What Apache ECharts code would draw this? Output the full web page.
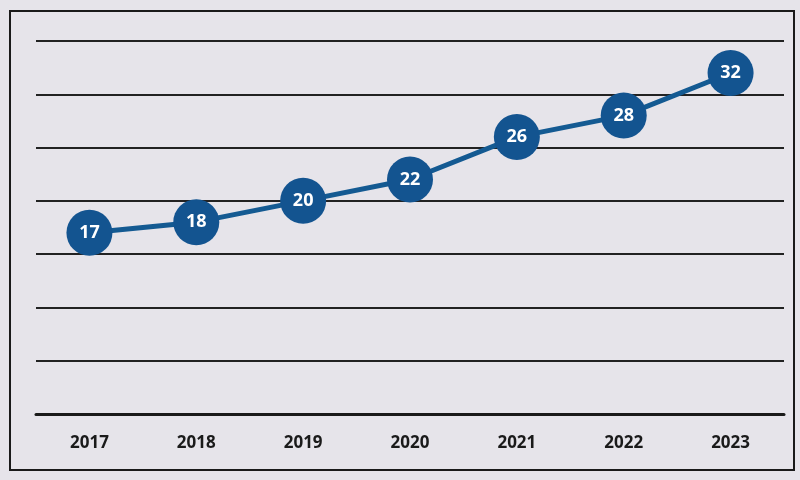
<!DOCTYPE html>
<html><head><meta charset="utf-8">
<script src="https://cdn.jsdelivr.net/npm/echarts@6/dist/echarts.min.js"></script>
<style>html,body{margin:0;padding:0;background:#e6e4ea;}#c{width:800px;height:480px;}</style>
</head><body><div id="c"></div>
<script>
const categories = ['2017','2018','2019','2020','2021','2022','2023'];
const values = [17, 18, 20, 22, 26, 28, 32];
const chart = echarts.init(document.getElementById('c'));
chart.setOption({
  backgroundColor: '#e6e4ea',
  animation: false,
  graphic: [{
    type: 'rect', shape: {x: 10, y: 11, width: 784, height: 459},
    style: {fill: 'none', stroke: '#1a1a1a', lineWidth: 2}, z: -1
  }],
  grid: {left: 36, right: 16, top: 41, bottom: 66},
  xAxis: {
    type: 'category', data: categories, boundaryGap: true,
    axisLine: {show: true, lineStyle: {color: '#1a1a1a', width: 3}},
    axisTick: {show: false},
    axisLabel: {color: '#1a1a1a', fontSize: 17, fontWeight: 'bold', fontFamily: 'Open Sans', margin: 21}
  },
  yAxis: {
    type: 'value', min: 0, max: 35, interval: 5,
    axisLabel: {show: false}, axisLine: {show: false}, axisTick: {show: false},
    splitLine: {lineStyle: {color: '#222', width: 2}}
  },
  series: [{
    type: 'line', data: values,
    symbol: 'circle', symbolSize: 46,
    lineStyle: {color: '#145a92', width: 5},
    itemStyle: {color: '#135490'},
    label: {show: true, position: 'inside', color: '#fff', fontSize: 18, fontWeight: 'bold', fontFamily: 'Open Sans'}
  }]
});
</script></body></html>
